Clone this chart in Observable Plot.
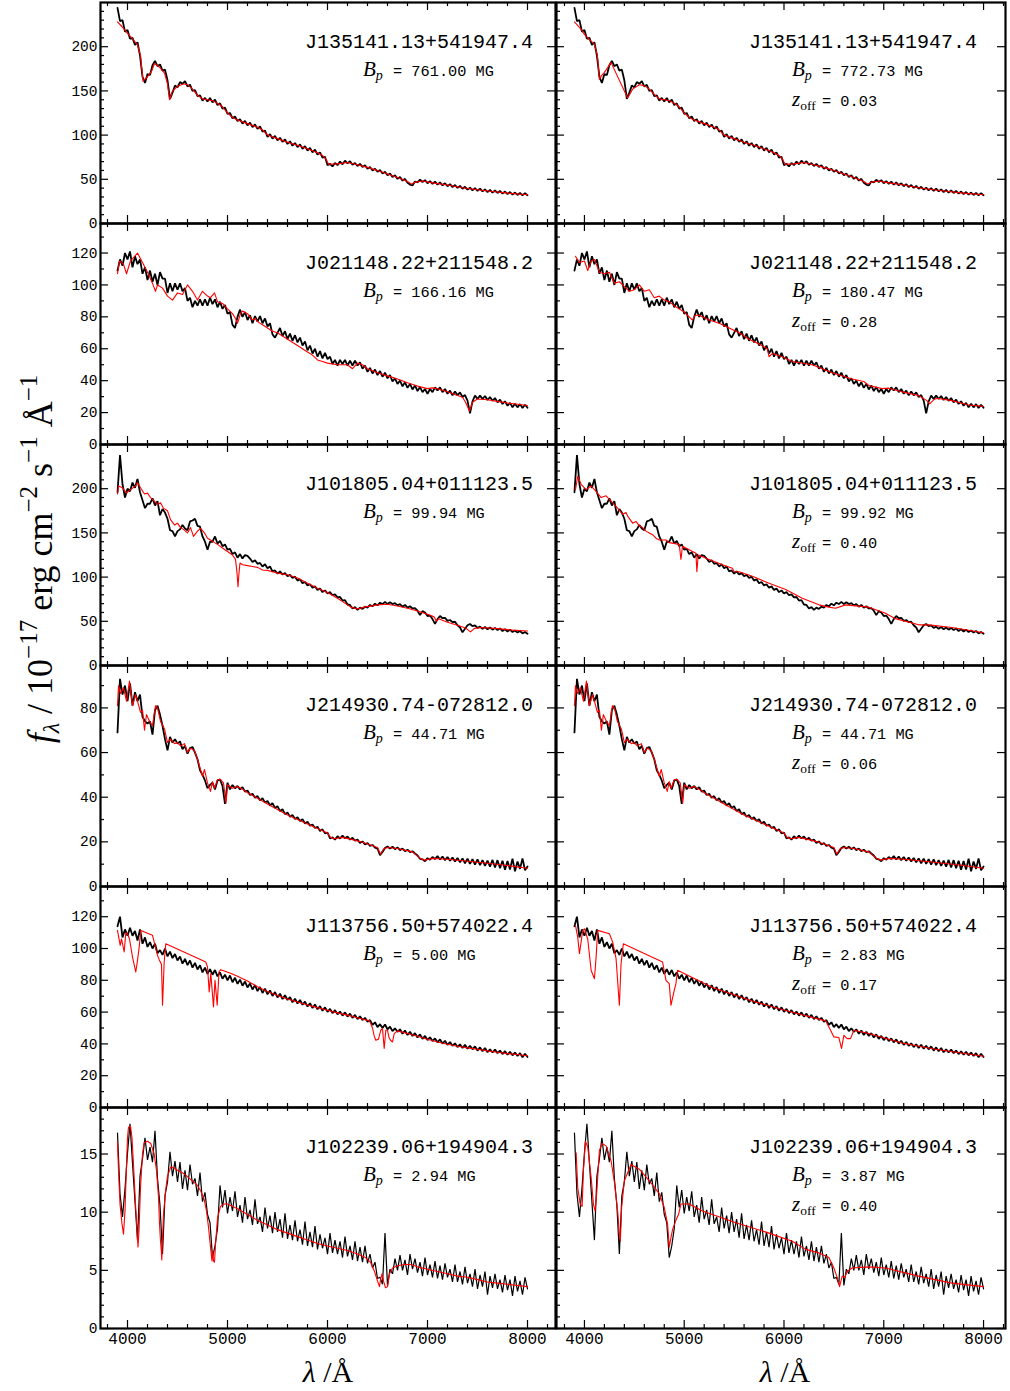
<!DOCTYPE html>
<html><head><meta charset="utf-8">
<script src="https://cdn.jsdelivr.net/npm/d3@7"></script>
<script src="https://cdn.jsdelivr.net/npm/@observablehq/plot@0.6"></script>
<style>
body{margin:0;background:#fff}
#fig{position:relative;width:1010px;height:1391px;background:#fff;overflow:hidden}
</style>
</head><body><div id="fig"></div>
<script>
// ---------- DATA ----------
// observed spectra: flux on a wavelength grid starting at lam0, step dLam (Angstrom)
const lam0 = 3900, dLam = 25;

const obs1 = [
244,229,230,217,219,209,210,202,
205,190,166,159,169,168,179,184,
178,180,173,174,162,141,148,156,
154,160,158,161,155,157,150,151,
144,145,139,142,138,142,137,140,
134,136,130,131,124,125,119,121,
116,118,113,116,111,114,109,112,
107,110,104,105,98,101,96,99,
94,97,92.5,95,90,93,88,91,
86.5,89.5,84.5,87.5,82.5,85.5,80.5,83.5,
78,80.5,74.5,75.5,66,67.5,64.5,68.5,
66,70,67,71,68,70.5,66.5,68.5,
65,67.5,64,66,62,64,60,62,
58.5,60.5,56.5,58.5,54.5,56.5,52.5,54.5,
50.5,52.5,48.5,50.5,46,44,43,47.5,
46.5,49.5,47,49,45.5,48,44.8,47.3,
44,46.5,43.2,45.5,42.2,44.5,41.2,43.5,
40.3,42.5,39.3,41.5,38.3,40.5,37.5,40,
37,39.5,36.3,38.5,35.5,38,35,37.5,
34.5,36.8,33.8,36.2,33.2,35.6,32.6,35,
32.3,34.7,31.8,34.3,32];

const obs2 = [
109,116,112,120,116,121,111,118,
113,116,107,111,103,109,102,107,
100,108,104,104,95,101,96,101,
97,101,96,98,90,92,86,90,
87,91,87,91,87,92,88,91,
86,89.5,85,87.5,82,83,75,73,
80,84.5,80,83,78,81,76,80.5,
77,80.5,76,79,74,76,69,67,
70,73,68,71,66,69.5,65,68.5,
64,67,62,64.5,59,62,57,60,
55,58.5,54,57.5,53.5,55,50.5,53,
49.5,53,50.5,53,49.5,52.5,49.5,52.5,
49.5,51.5,47.5,49.5,45.5,48,44.5,47,
43.5,46,42.5,45,41.5,43.5,39.5,41.5,
38,40,36.5,39,35.5,38,34.5,37,
33.5,36,32.8,34.8,31.8,34.8,32.8,35.8,
33.8,35.8,32.8,34.8,31.8,33.8,30.8,33.2,
30.8,32.7,29.8,31,27.5,19.5,27,30.7,
28.5,30.7,28.5,30.4,27.9,29.8,27.4,29.1,
26.4,28.1,25.4,27.1,24.3,26.1,23.3,25.5,
23.3,25.3,22.9,24.9,23];

const obs3 = [
196,238,205,190,200,197,207,201,
211,196,187,178,183,183,189,181,
186,170,177,173,166,153,152,146,
152,154,159,155,153,163,164,166,
158,157,146,140,131,140,140,146,
138,141,135,137,131,132,126,128,
122,126,121,125,124,121,117,119,
115,116,112,114.5,110,112,106.5,107.5,
104,106.5,103,104.5,101,102.5,99,100.5,
96,97.5,93,94.5,90.5,92,88,89.5,
85.5,87,83,85,81.5,83,79.5,80.5,
77,77.5,73.5,74,69,68.5,64.5,66,
63,65.5,64,66.5,65.5,68.5,67,70,
68,71,69.5,72,69.5,71.5,69.5,70.5,
68,69.5,66.5,68.5,65.5,67,64.5,65,
62,57,61.5,60,56,56.5,52.5,47,
52.5,56,53.5,54,50.5,51.5,49,49.5,
45.5,43,37.5,41.5,45.5,47,44.5,45.5,
42.5,44,41.5,43.5,41,43,40.5,42.5,
40,42,39,41,38.5,40.5,37.8,39.6,
37.2,39,36.3,38,36];

const obs4 = [
69,93,86,90,83,91,81,87,
83,86,76,74,73,74,68,79,
81,77,72,66,61,67,64.5,66,
64,65,61.5,63,59.5,62,62.5,60,
57,52,50,47.5,44,45.5,46.5,43.5,
47.5,48,45,37,46.5,43.5,45.5,44,
45,43.5,44.5,42.5,43,41,41.5,39.8,
40.5,38.6,39.6,37.6,38.3,36.3,37.3,35.2,
36,33.8,34.6,32.4,33.2,31.2,32,30.2,
31,29.3,30.2,28.2,29,27.2,27.8,26.2,
26.8,24.8,25.6,23.8,24.2,21.5,22,21,
22.5,21.5,22.8,21.6,22.4,21,21.8,20.5,
21,19.5,20.2,18.8,19.5,18.2,18.6,17.4,
17,14,15.5,17.2,17.9,17,17.8,16.7,
17.5,16.3,17,15.8,16.5,15.4,15.8,14.8,
13.9,12.4,12.2,11.3,12.7,12,13.2,12.3,
13.6,12.1,13.4,11.8,13.2,11.5,13,11.2,
12.8,10.8,12.6,10.4,12.5,10.1,12.3,9.8,
12.2,9.6,11.8,9.2,11.6,8.9,11.9,8.5,
11.8,8.2,11.5,7.5,11.4,7.6,12.5,6.8,
11.2,7.9,12.6,7.3,9];

const obs5 = [
114,120,107,112,108,113,108,111,
105,112,103,107,101,104,100,103,
97,99,96,100,95,98,94,96.5,
92.5,95,90.5,93.5,89.5,92.5,88,91,
86.8,89.5,85,88,84,87,83.5,86.5,
82.5,85,81,83.5,80,83,78.8,81.6,
77.8,80.4,76.6,79.2,75.5,78,74.2,77,
73.2,75.8,72,74.8,71.2,73.6,70.2,72.6,
69.2,71.6,68.2,70.6,67.6,69.4,66.2,68.4,
65.4,67.6,64.6,66.6,63.5,65.6,62.6,64.8,
61.8,63.8,60.8,63,60.2,62,59.4,61.2,
58.6,60.4,57.8,59.8,57.2,59,56.4,58.2,
55.6,57.4,55,56.4,54,55,52,53.6,
50.5,52.4,50,52.2,49.2,50.8,48,49.8,
47.6,49.2,46.4,48.4,45.6,47.6,45,46.8,
44,46,43.2,45,42.4,44.2,41.8,43.4,
41,42.8,40.2,42,39.4,41.2,38.8,40.4,
38,39.8,37.4,39.4,37,38.8,36.6,38.4,
35.8,37.8,35.4,37.4,34.8,36.6,34.6,36.4,
34.2,35.8,33.6,35.4,33.2,35,32.8,34.6,
32.4,34.2,31.6,33.8,31.8];

const obs6 = [
16.8,11.6,9.6,12.0,15.1,17.6,14.2,10.9,
7.6,13.1,14.6,16.4,14.5,15.6,14.3,17.0,
12.9,10.6,6.4,11.4,12.6,15.2,13.1,14.4,
12.6,14.3,12.0,13.6,11.9,14.1,12.4,12.9,
11.4,13.4,10.9,11.7,9.8,9.1,6.1,7.1,
8.6,12.3,10.4,11.9,9.9,11.3,10.1,11.8,
9.6,10.6,9.1,11.3,9.4,10.2,8.9,11.1,
9.0,9.6,8.3,10.4,8.6,9.7,8.2,10.0,
8.3,9.4,7.8,9.9,7.7,8.9,7.6,9.3,
7.5,8.5,7.2,9.2,7.1,8.3,7.0,8.8,
6.8,8.1,6.9,7.8,6.4,8.2,6.5,7.6,
6.4,7.5,6.1,7.9,6.2,7.1,5.9,7.5,
5.8,7.0,5.7,7.1,5.6,6.4,5.2,5.7,
4.3,4.4,3.8,8.2,3.7,5.1,4.7,6.0,
5.0,6.3,5.0,5.9,4.6,6.4,5.1,6.0,
4.8,5.7,4.5,6.1,4.6,5.5,4.4,5.8,
4.3,5.4,4.2,5.6,4.4,5.1,4.0,5.5,
4.0,4.9,3.8,5.3,3.9,4.7,3.6,5.1,
3.4,4.6,3.6,4.9,2.9,4.5,3.5,4.7,
3.4,4.2,3.1,4.6,3.3,4.2,2.8,4.5,
3.2,4.1,2.9,4.4,3.4];

// model spectra: [wavelength, flux]
const model1L = [[3900,228],[3950,222],[4000,215],[4050,209],[4100,202],[4130,190],[4155,161],[4200,166],[4240,172],[4270,181],[4320,177],[4370,170],[4400,158],[4420,140],[4450,150],[4500,155],[4560,158],[4600,157],[4650,152],[4700,145],[4750,141],[4800,140],[4850,139],[4900,136],[4950,132],[5000,125],[5050,120],[5100,117],[5200,113],[5300,109],[5350,106],[5400,100],[5500,96],[5600,92],[5700,88.5],[5800,84.5],[5900,80],[5950,77],[5990,72],[6010,67],[6100,67.5],[6200,69],[6300,66.5],[6400,63.5],[6500,60],[6600,56],[6700,52],[6800,47.5],[6840,44.5],[6870,46.5],[6950,48],[7050,46],[7200,43.5],[7350,40.5],[7500,38.2],[7650,36.2],[7800,34.4],[8000,32.6]];
const model1R = [[3900,228],[3950,222],[4000,214],[4050,208],[4100,203],[4130,190],[4150,163],[4170,167],[4200,171],[4267,182],[4433,142],[4483,152],[4550,157],[4600,156],[4650,152],[4700,146],[4750,141],[4800,140],[4850,139],[4900,136],[4950,132],[5000,125],[5050,120],[5100,117],[5200,113],[5300,109],[5350,106],[5400,100],[5500,96],[5600,92],[5700,88.5],[5800,84.5],[5900,80],[5950,77],[5990,72],[6010,67],[6100,67.5],[6200,69],[6300,66.5],[6400,63.5],[6500,60],[6600,56],[6700,52],[6800,47.5],[6840,44.5],[6870,46.5],[6950,48],[7050,46],[7200,43.5],[7350,40.5],[7500,38.2],[7650,36.2],[7800,34.4],[8000,32.6]];
const model2L = [[3900,107],[3920,115],[3960,113],[3990,107],[4030,115],[4100,120],[4150,114],[4200,108],[4250,101],[4280,96],[4300,100],[4350,98],[4400,93],[4450,90.5],[4500,95],[4550,94],[4600,100],[4650,96],[4700,90.5],[4750,96],[4800,93],[4830,92],[4870,95],[4900,89.5],[4950,88.4],[5000,85],[5050,82],[5080,79],[5100,76],[5130,82],[5150,83.6],[5200,82],[5250,78],[5280,79],[5300,77],[5350,75],[5400,73],[5450,71],[5500,70],[5600,66],[5700,62],[5800,58],[5850,56],[5900,53],[5950,52],[6000,51],[6100,50],[6200,50],[6250,47.5],[6300,51],[6350,50],[6400,47.5],[6500,45],[6600,43],[6700,41],[6800,38.7],[6900,36.6],[7000,35],[7050,35.5],[7100,35],[7200,33],[7300,30.7],[7350,29.6],[7380,26.5],[7420,21],[7450,26.5],[7500,28.5],[7600,28],[7700,27],[7800,26],[7900,25.2],[8000,24.4]];
const model2R = [[3910,118],[3950,114],[4000,115],[4033,109],[4067,115],[4100,116],[4150,108],[4200,107],[4250,108],[4300,101],[4350,102],[4400,99],[4450,96],[4500,97],[4550,100],[4600,96],[4650,97],[4700,92],[4750,93],[4800,90.5],[4850,89.5],[4900,87],[4950,85],[5000,83],[5050,80],[5083,78],[5110,81],[5150,81],[5250,78],[5350,76],[5450,73],[5550,70],[5650,66],[5750,63],[5833,60],[5850,55],[5883,57],[5983,55],[6083,52],[6283,50],[6483,45],[6683,41],[6800,39.5],[6850,37],[6983,35],[7050,35.3],[7183,33],[7350,30.7],[7433,27.5],[7460,25.5],[7500,28],[7533,29],[7683,27.5],[7850,24.8],[8000,24]];
const model3L = [[3900,194],[3910,203],[3950,201],[3990,195],[4030,199],[4080,203],[4100,207],[4130,201],[4170,194],[4200,195],[4230,190],[4270,186],[4300,182],[4330,184],[4360,178],[4400,175],[4430,165],[4470,159],[4500,161],[4530,156],[4560,154],[4600,150],[4630,156],[4660,146],[4700,152],[4730,155],[4770,150],[4800,144],[4830,142],[4870,139],[4900,137],[4950,133],[5000,129],[5050,125],[5080,120],[5095,105],[5105,89],[5115,105],[5125,116],[5150,114],[5200,113],[5250,112],[5300,111],[5350,108],[5400,107.6],[5450,106],[5500,104.5],[5600,102.7],[5700,99],[5800,93],[5900,87.5],[6000,82.6],[6100,76],[6200,68.6],[6233,66],[6300,64],[6367,66],[6500,68.6],[6600,69.3],[6700,67.4],[6800,64.8],[6900,61.7],[7000,58],[7067,55],[7090,50],[7110,53],[7200,49],[7300,45.5],[7380,42.5],[7430,38],[7470,42],[7550,43],[7700,41.7],[7850,40],[8000,39]];
const model3R = [[3910,199],[3933,214],[3967,205],[4017,199],[4067,203],[4117,197],[4167,190],[4217,192],[4267,186],[4317,180],[4383,171],[4417,173],[4433,169],[4483,161],[4517,163],[4550,158],[4583,156],[4617,152],[4650,150],[4683,148],[4717,144],[4750,142],[4817,142],[4850,139],[4950,137],[4967,120],[4983,135],[5050,131],[5117,127],[5127,106],[5140,125],[5250,120],[5383,114],[5483,110],[5500,106],[5550,106],[5683,101],[5850,93],[6017,86],[6183,76],[6350,68.6],[6450,66],[6517,64.8],[6617,68.6],[6850,66],[7017,59],[7117,53],[7350,46],[7450,46],[7683,43],[8000,37]];
const model4 = [[3900,81],[3910,90],[3930,86.5],[3960,89],[3990,83],[4020,92],[4050,81],[4080,86],[4100,83],[4130,78],[4150,79],[4170,70],[4190,77],[4220,74],[4250,72],[4280,81],[4300,80],[4330,74],[4370,70.6],[4400,64.5],[4430,66],[4470,64],[4500,64.5],[4530,63],[4570,64],[4600,60],[4630,62],[4670,60.8],[4700,57],[4730,52.4],[4750,49.4],[4770,52.4],[4800,46.4],[4830,42.6],[4850,47],[4870,44],[4900,47.9],[4930,47.9],[4960,46.4],[4985,37.3],[5000,45.6],[5050,44],[5100,44.8],[5150,43.6],[5200,42],[5300,39.5],[5400,37],[5500,34.5],[5600,32],[5700,30],[5800,28],[5900,26],[6000,24],[6030,22],[6070,21.4],[6150,22],[6250,21],[6350,19.8],[6450,18.3],[6500,17.5],[6530,14.5],[6560,16.8],[6600,17.5],[6700,17],[6850,15.5],[6930,12.5],[6970,11.8],[7050,12.6],[7200,12.2],[7400,11.3],[7600,10.4],[7800,9.4],[8000,8.2]];
const model5L = [[3900,111.4],[3927,102],[3940,106],[3967,97.8],[3983,110],[4000,109.3],[4020,106],[4050,94.6],[4083,85.2],[4100,92.5],[4117,100.9],[4133,111.4],[4250,108.3],[4267,104],[4300,95.7],[4317,93],[4340,90],[4350,64.3],[4360,80],[4367,91.5],[4383,103],[4783,91.5],[4800,88.4],[4817,72.7],[4833,84.2],[4860,63.2],[4875,80],[4897,64.3],[4915,85.2],[4933,86.7],[5030,84.5],[5100,82.5],[5200,79.5],[5300,76],[5400,73],[5500,70.4],[5600,68.3],[5700,66.3],[5800,64.5],[5900,62.8],[6000,61.2],[6100,59.5],[6200,58.1],[6300,56.5],[6420,54.5],[6450,50],[6467,45],[6483,42.3],[6510,43],[6533,48.6],[6550,49.6],[6567,37.1],[6583,48.6],[6600,48.6],[6615,44],[6630,42.3],[6650,41.2],[6667,46.5],[6700,48.2],[6800,46.5],[6900,44.8],[7000,42.9],[7100,41.2],[7200,39.8],[7300,38.5],[7400,37.5],[7500,36.6],[7600,35.6],[7700,34.8],[7800,33.9],[7900,33.3],[8000,32.5]];
const model5R = [[3910,114.5],[3933,107],[3950,96.7],[3983,111.4],[4000,112.4],[4033,106],[4067,86.3],[4100,81],[4117,94.6],[4133,111.4],[4250,109.3],[4283,104],[4317,93.6],[4350,64.3],[4367,90.4],[4390,103],[4783,91.5],[4817,80],[4850,77.9],[4867,64.3],[4900,73.7],[4917,77.9],[4933,86.3],[5283,75.5],[5683,67],[6017,61],[6417,54.5],[6467,48.6],[6500,44.4],[6550,44],[6577,37.1],[6600,45.4],[6633,43.3],[6667,43.3],[6700,48.6],[6850,46.5],[7183,40.6],[7517,36.6],[8000,32.2]];
const model6L = [[3900,16],[3910,13.6],[3925,10.7],[3945,9],[3960,8.1],[3975,10.1],[3990,14.1],[4000,16.4],[4010,17.3],[4030,17.4],[4045,16.4],[4060,14.1],[4080,10.7],[4095,8.4],[4105,7],[4115,8.4],[4130,12.1],[4150,15],[4167,16],[4200,16.1],[4233,15.9],[4267,15],[4290,13.6],[4310,11.3],[4320,9],[4330,7.5],[4338,6.7],[4343,5.9],[4348,7.2],[4360,9.8],[4380,11.8],[4400,13.1],[4433,13.9],[4467,13.8],[4500,13.6],[4567,13.3],[4633,12.8],[4700,12.3],[4733,11.8],[4767,11.1],[4790,10.1],[4810,8.7],[4830,7],[4845,5.8],[4852,6.7],[4860,5.8],[4870,5.7],[4880,7.2],[4900,9.5],[4930,10.5],[4967,10.7],[5000,10.7],[5100,10.3],[5200,9.8],[5300,9.3],[5400,8.9],[5500,8.5],[5600,8.2],[5700,7.9],[5800,7.6],[5900,7.3],[6000,7.1],[6100,6.9],[6200,6.7],[6300,6.4],[6380,6.1],[6430,5.7],[6470,4.9],[6500,4.1],[6520,3.6],[6530,4.2],[6545,4.7],[6560,4.1],[6580,3.5],[6600,3.6],[6620,4.7],[6650,5.2],[6700,5.4],[6767,5.5],[6833,5.5],[6900,5.3],[7000,5.1],[7100,4.9],[7200,4.7],[7300,4.5],[7400,4.4],[7500,4.2],[7600,4],[7700,3.9],[7800,3.8],[7900,3.7],[8000,3.6]];
const model6R = [[3917,15.1],[3933,12.1],[3957,10.7],[3977,10.5],[3990,13.6],[4010,16.1],[4033,15.6],[4067,13],[4090,10.7],[4107,10.1],[4123,11.6],[4150,15.3],[4177,15.9],[4217,15.7],[4267,14.4],[4300,12.6],[4333,10.1],[4350,8.1],[4360,7.5],[4373,10.4],[4400,12.7],[4467,14.1],[4550,13.7],[4650,12.7],[4750,11.6],[4800,10.4],[4833,9],[4850,7],[4867,7.8],[4883,8.5],[4917,9.3],[4943,9.8],[4967,10.7],[5050,10.7],[5183,10.1],[5517,9.1],[5850,8.2],[6083,7.5],[6217,6.8],[6350,6.5],[6450,6.1],[6500,5.2],[6533,4.4],[6557,3.6],[6583,4.5],[6610,4.4],[6633,4.9],[6683,5.2],[6850,5.3],[7017,5.2],[7350,4.5],[7683,3.9],[8000,3.6]];

const names = ["J135141.13+541947.4","J021148.22+211548.2","J101805.04+011123.5","J214930.74-072812.0","J113756.50+574022.4","J102239.06+194904.3"];
const bpLeft  = ["761.00","166.16","99.94","44.71","5.00","2.94"];
const bpRight = ["772.73","180.47","99.92","44.71","2.83","3.87"];
const zOff    = ["0.03","0.28","0.40","0.06","0.17","0.40"];

const xMajor = [4000,5000,6000,7000,8000];
const xMinor = [3800,4200,4400,4600,4800,5200,5400,5600,5800,6200,6400,6600,6800,7200,7400,7600,7800,8200];
const yMajor = [[0,50,100,150,200],[0,20,40,60,80,100,120],[0,50,100,150,200],[0,20,40,60,80],[0,20,40,60,80,100,120],[0,5,10,15]];
const yMinorStep = [10,10,10,10,10,1];
const yMax = [250,138.5,250,99,139,19];

// ---------- LAYOUT ----------
const obsAll = [obs1,obs2,obs3,obs4,obs5,obs6];
const modelsL = [model1L,model2L,model3L,model4,model5L,model6L];
const modelsR = [model1R,model2R,model3R,model4,model5R,model6R];
const colX = [100,556], colW = [455,449];
const xDom = [[3730,8280],[3720,8220]];
const rowTop = [2,223,444,665,886,1107], H = 221;
const nameRight = [433,421], bpX = [263,236], eqX = [293,266];
const MONO = "Liberation Mono", SERIF = "Liberation Serif";

const fig = document.getElementById("fig");

for (let r = 0; r < 6; r++) {
  const obsData = obsAll[r].map((v,i) => ({lam: lam0 + i*dLam, f: v}));
  const yMin = d3.range(0, yMax[r], yMinorStep[r]).filter(v => !yMajor[r].includes(v));
  for (let c = 0; c < 2; c++) {
    const W = colW[c];
    const model = c === 0 ? modelsL[r] : modelsR[r];
    const xm = xMinor.filter(v => v > xDom[c][0] && v < xDom[c][1]);
    const marks = [
      Plot.line(obsData, {x: "lam", y: "f", stroke: "black", strokeWidth: r === 5 ? 1.2 : 1.8, strokeLinejoin: "miter"}),
      Plot.line(model, {x: d => d[0], y: d => d[1], stroke: "#ff0000", strokeWidth: 1.1}),
      Plot.tickX(xMajor, {x: d => d, insetTop: H - 8, stroke: "black", strokeWidth: 1.2}),
      Plot.tickX(xMajor, {x: d => d, insetBottom: H - 8, stroke: "black", strokeWidth: 1.2}),
      Plot.tickX(xm, {x: d => d, insetTop: H - 4, stroke: "black", strokeWidth: 1.2}),
      Plot.tickX(xm, {x: d => d, insetBottom: H - 4, stroke: "black", strokeWidth: 1.2}),
      Plot.tickY(yMajor[r], {y: d => d, insetRight: W - 8, stroke: "black", strokeWidth: 1.2}),
      Plot.tickY(yMajor[r], {y: d => d, insetLeft: W - 8, stroke: "black", strokeWidth: 1.2}),
      Plot.tickY(yMin, {y: d => d, insetRight: W - 4, stroke: "black", strokeWidth: 1.2}),
      Plot.frame({stroke: "black", strokeWidth: 2.2})
    ];
    if (c === 0) marks.push(Plot.text(yMajor[r], {y: d => d, text: d => String(d), frameAnchor: "left", textAnchor: "end", dx: -3, fontFamily: MONO, fontSize: 14.5, fill: "black"}));
    if (r === 5) marks.push(Plot.text(xMajor, {x: d => d, text: d => String(d), frameAnchor: "bottom", lineAnchor: "top", dy: 4, fontFamily: MONO, fontSize: 16, fill: "black"}));
    const svg = Plot.plot({
      width: W, height: H, margin: 0,
      x: {domain: xDom[c], axis: null},
      y: {domain: [0, yMax[r]], axis: null},
      style: {overflow: "visible", background: "transparent"},
      marks
    });
    svg.style.position = "absolute";
    svg.style.left = colX[c] + "px";
    svg.style.top = rowTop[r] + "px";
    svg.style.maxWidth = "none";

    const g = d3.select(svg).append("g").attr("fill", "black").attr("text-anchor", "start");
    g.append("text").attr("x", nameRight[c]).attr("y", 46).attr("text-anchor", "end")
      .attr("font-family", MONO).attr("font-size", 20).text(names[r]);
    const bp = g.append("text").attr("y", 74).attr("text-anchor", "start");
    bp.append("tspan").attr("x", bpX[c]).attr("font-family", SERIF).attr("font-style", "italic").attr("font-size", 21).text("B");
    bp.append("tspan").attr("font-family", SERIF).attr("font-style", "italic").attr("font-size", 14).attr("dy", 4).text("p");
    bp.append("tspan").attr("x", eqX[c]).attr("dy", -4).attr("font-family", MONO).attr("font-size", 15.3)
      .text("= " + (c === 0 ? bpLeft[r] : bpRight[r]) + " MG");
    if (c === 1) {
      const z = g.append("text").attr("y", 104).attr("text-anchor", "start");
      z.append("tspan").attr("x", bpX[c]).attr("font-family", SERIF).attr("font-style", "italic").attr("font-size", 21).text("z");
      z.append("tspan").attr("font-family", SERIF).attr("font-size", 13.5).attr("dy", 4).text("off");
      z.append("tspan").attr("x", eqX[c]).attr("dy", -4).attr("font-family", MONO).attr("font-size", 15.3).text("= " + zOff[r]);
    }
    fig.appendChild(svg);
  }
}

// ---------- AXIS TITLES ----------
const ov = d3.create("svg").attr("width", 1010).attr("height", 1391)
  .style("position", "absolute").style("left", "0px").style("top", "0px").style("pointer-events", "none");
const yl = ov.append("text").attr("transform", "translate(52,559) rotate(-90)")
  .attr("text-anchor", "middle").attr("font-family", SERIF).attr("font-size", 36).attr("fill", "black");
yl.append("tspan").attr("font-style", "italic").text("f");
yl.append("tspan").attr("font-style", "italic").attr("font-size", 24).attr("dy", 7).text("λ");
yl.append("tspan").attr("dy", -7).text(" / 10");
yl.append("tspan").attr("font-size", 25).attr("dy", -15).text("−17");
yl.append("tspan").attr("dy", 15).text(" erg cm");
yl.append("tspan").attr("font-size", 25).attr("dy", -15).text("−2");
yl.append("tspan").attr("dy", 15).text(" s");
yl.append("tspan").attr("font-size", 25).attr("dy", -15).text("−1");
yl.append("tspan").attr("dy", 15).text(" Å");
yl.append("tspan").attr("font-size", 25).attr("dy", -15).text("−1");
for (const cx of [328, 785]) {
  const xl = ov.append("text").attr("x", cx).attr("y", 1382).attr("text-anchor", "middle")
    .attr("font-family", SERIF).attr("font-size", 30).attr("fill", "black");
  xl.append("tspan").attr("font-style", "italic").text("λ");
  xl.append("tspan").text(" /Å");
}
fig.appendChild(ov.node());
</script></body></html>
